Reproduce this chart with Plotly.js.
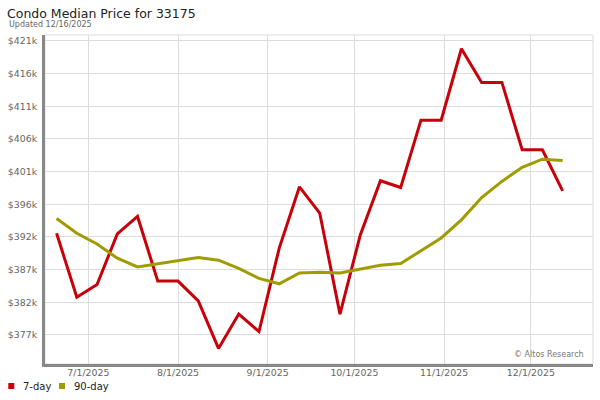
<!DOCTYPE html>
<html>
<head>
<meta charset="utf-8">
<script src="https://cdn.plot.ly/plotly-3.0.1.min.js"></script>
<style>html,body{margin:0;padding:0;background:#fff;}#chart{width:600px;height:400px;}</style>
</head>
<body>
<div id="chart"></div>
<script>
// Weekly dates (Fridays)
const dates = ["2025-06-20","2025-06-27","2025-07-04","2025-07-11","2025-07-18","2025-07-25",
  "2025-08-01","2025-08-08","2025-08-15","2025-08-22","2025-08-29","2025-09-05","2025-09-12",
  "2025-09-19","2025-09-26","2025-10-03","2025-10-10","2025-10-17","2025-10-24","2025-10-31",
  "2025-11-07","2025-11-14","2025-11-21","2025-11-28","2025-12-05","2025-12-12"];
const sevenDay = [392600,383100,385000,392500,395100,385500,385500,382550,375500,380600,378000,390400,399500,
  395600,380600,392300,400400,399400,409400,409400,420000,415000,415000,405000,405000,398900];
const ninetyDay = [394800,392600,391000,388900,387600,388100,388500,389000,388600,387400,385900,385100,386700,
  386800,386700,387300,387850,388100,390000,391900,394600,397900,400300,402400,403600,403400];
const seriesNames = ["7-day","90-day"];
const seriesColors = ["#c8000a","#a09c00"];
const yTickVals = [377500,382350,387200,392050,396900,401750,406600,411450,416300,421150];
const yTickText = ["$377k","$382k","$387k","$392k","$396k","$401k","$406k","$411k","$416k","$421k"];
const xTickVals = ["2025-07-01","2025-08-01","2025-09-01","2025-10-01","2025-11-01","2025-12-01"];
const xTickText = ["7/1/2025","8/1/2025","9/1/2025","10/1/2025","11/1/2025","12/1/2025"];

const font = "DejaVu Sans, Verdana, sans-serif";
const traces = [sevenDay, ninetyDay].map((v,i)=>({
  x: dates, y: v, type: "scatter", mode: "lines",
  name: seriesNames[i], line: {color: seriesColors[i], width: 3},
  hoverinfo: "skip", showlegend: false
}));

const layout = {
  width: 600, height: 400,
  margin: {l: 45, r: 7, t: 35, b: 36},
  paper_bgcolor: "#fff", plot_bgcolor: "#fff",
  font: {family: font, color: "#666"},
  title: {text: "Condo Median Price for 33175", x: 7/600, xanchor: "left",
    y: 1 - 14/400, yanchor: "middle", yref: "container",
    font: {family: font, size: 12.5, color: "#222"}},
  xaxis: {type: "date", range: ["2025-06-16", "2025-12-22 12:00"],
    tickvals: xTickVals, ticktext: xTickText,
    showgrid: true, gridcolor: "#dcdcdc", gridwidth: 1,
    showline: true, linecolor: "#888", linewidth: 3,
    ticks: "", ticklabelstandoff: -2, tickfont: {family: font, size: 9.4, color: "#666"},
    zeroline: false, fixedrange: true},
  yaxis: {range: [373190, 422040],
    tickvals: yTickVals, ticktext: yTickText,
    showgrid: true, gridcolor: "#dcdcdc", gridwidth: 1,
    showline: true, linecolor: "#888", linewidth: 3,
    ticks: "", ticklabelstandoff: 3, tickfont: {family: font, size: 9.4, color: "#666"},
    zeroline: false, fixedrange: true},
  shapes: [
    {type: "rect", xref: "paper", yref: "paper", x0: 0, x1: 1, y0: 0, y1: 1,
      line: {color: "#dcdcdc", width: 1}, layer: "below"},
    {type: "rect", xref: "paper", yref: "paper", x0: -0.0670, x1: -0.0560, y0: -0.0760, y1: -0.0578,
      fillcolor: seriesColors[0], line: {width: 0}},
    {type: "rect", xref: "paper", yref: "paper", x0: 0.02555, x1: 0.0365, y0: -0.0760, y1: -0.0578,
      fillcolor: seriesColors[1], line: {width: 0}}
  ],
  annotations: [
    {text: "Updated 12/16/2025", xref: "paper", yref: "paper", x: -0.0693, y: 1.0304,
      xanchor: "left", yanchor: "middle", showarrow: false, font: {family: font, size: 8, color: "#666"}},
    {text: seriesNames[0], xref: "paper", yref: "paper", x: -0.0445, y: -0.0669,
      xanchor: "left", yanchor: "middle", showarrow: false, font: {family: font, size: 10, color: "#222"}},
    {text: seriesNames[1], xref: "paper", yref: "paper", x: 0.0485, y: -0.0669,
      xanchor: "left", yanchor: "middle", showarrow: false, font: {family: font, size: 10, color: "#222"}},
    {text: "© Altos Research", xref: "paper", yref: "paper", x: 0.9872, y: 0.0295,
      xanchor: "right", yanchor: "middle", showarrow: false, font: {family: font, size: 8, color: "#777"}}
  ],
  showlegend: false
};
Plotly.newPlot("chart", traces, layout, {displayModeBar: false, staticPlot: true});
</script>
</body>
</html>
